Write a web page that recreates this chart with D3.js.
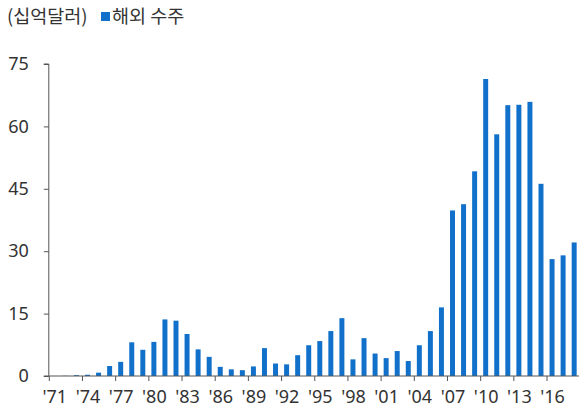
<!DOCTYPE html>
<html>
<head>
<meta charset="utf-8">
<script src="https://cdn.jsdelivr.net/npm/d3@7"></script>
<style>
  html, body { margin: 0; padding: 0; background: #fff; }
  svg { display: block; }
  text { font-family: "Noto Sans CJK KR", "Noto Sans", sans-serif; fill: #333; }
</style>
</head>
<body>
<svg id="chart" width="579" height="409"></svg>
<script>
// Overseas construction orders, billions of USD, 1971–2018
const years = d3.range(1971, 2019);
const orders = [
  0.0, 0.05, 0.2, 0.3, 0.8, 2.4, 3.4, 8.1, 6.3, 8.2,
  13.6, 13.3, 10.1, 6.4, 4.6, 2.2, 1.6, 1.4, 2.3, 6.7,
  3.0, 2.8, 5.0, 7.4, 8.4, 10.8, 13.9, 4.0, 9.1, 5.4,
  4.3, 6.0, 3.6, 7.4, 10.8, 16.5, 39.8, 41.3, 49.2, 71.4,
  58.1, 65.1, 65.2, 65.9, 46.2, 28.1, 29.0, 32.1
];
const yTicks = [0, 15, 30, 45, 60, 75];
const xTickYears = d3.range(1971, 2019, 3);
const unitLabel = "(십억달러)";
const seriesName = "해외 수주";

const barColor = "#1170c9";
const axisColor = "#555";
const numFont = "'Noto Sans', 'DejaVu Sans', sans-serif";

const svg = d3.select("#chart");
const x0 = 48.8, x1 = 579.7, yBottom = 376, yTop = 64;

const x = d3.scaleBand()
  .domain(years)
  .range([x0, x1])
  .paddingInner(0.55)
  .paddingOuter(0.275);

// continuous year scale for category boundaries (tick marks)
const xEdge = d3.scaleLinear().domain([1971, 2019]).range([x0, x1]);

const y = d3.scaleLinear().domain([0, 75]).range([yBottom, yTop]);

// bars
svg.append("g")
  .selectAll("rect")
  .data(years.map((yr, i) => ({ yr, v: orders[i] })))
  .join("rect")
  .attr("x", d => x(d.yr))
  .attr("width", x.bandwidth())
  .attr("y", d => y(d.v))
  .attr("height", d => y(0) - y(d.v))
  .attr("fill", barColor);

// y axis
const yAxis = svg.append("g")
  .attr("transform", `translate(${x0},0)`)
  .call(d3.axisLeft(y).tickValues(yTicks).tickSize(5).tickPadding(15));
yAxis.select(".domain").attr("stroke", axisColor).attr("d", `M-5,${yTop}H0V${yBottom}`);
yAxis.selectAll(".tick line").attr("stroke", axisColor);
yAxis.selectAll(".tick text")
  .attr("font-size", 18)
  .attr("fill", "#333")
  .style("font-family", numFont);

// x axis: ticks at category edges, labels centred on categories
const xAxis = svg.append("g")
  .attr("transform", `translate(0,${yBottom})`)
  .call(d3.axisBottom(xEdge)
    .tickValues(xTickYears)
    .tickSize(5)
    .tickPadding(9)
    .tickFormat(d => "'" + String(d).slice(2)));
xAxis.select(".domain").attr("stroke", axisColor).attr("d", `M${x0 - 5},0H${x1}`);
xAxis.selectAll(".tick line").attr("stroke", axisColor);
xAxis.selectAll(".tick text")
  .attr("dx", x.step() / 2)
  .attr("font-size", 18)
  .attr("fill", "#333")
  .style("font-family", numFont);

// legend
const legend = svg.append("g");
legend.append("text")
  .attr("x", 7).attr("y", 23)
  .attr("font-size", 18.5)
  .text(unitLabel);
legend.append("rect")
  .attr("x", 101).attr("y", 12)
  .attr("width", 9).attr("height", 9)
  .attr("fill", barColor);
legend.append("text")
  .attr("x", 112).attr("y", 23)
  .attr("font-size", 18.5)
  .text(seriesName);
</script>
</body>
</html>
